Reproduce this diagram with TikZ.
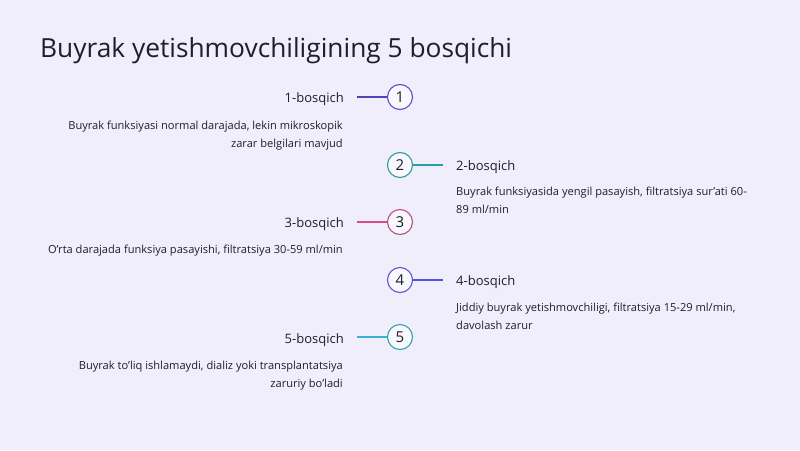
\documentclass[tikz,border=0pt]{standalone}
\usepackage{fontspec}
\setmainfont{Open Sans}
\begin{document}
\begin{tikzpicture}[x=1pt,y=-1pt,
  txt/.style={inner sep=0pt, text=ink},
  lbl/.style={txt, font=\fontsize{13}{16}\selectfont},
  dsc/.style={txt, font=\fontsize{11.1}{18}\selectfont},
  num/.style={circle, draw=#1, line width=1.1pt, fill=white!60!bg, minimum size=25pt, inner sep=0pt, text=ink, font=\fontsize{15}{18}\selectfont},
  conn/.style={draw=#1, line width=1.1pt}]
\definecolor{bg}{HTML}{EFEEFA}
\definecolor{ink}{HTML}{1E1E2C}
\definecolor{cA}{HTML}{4B45B8}
\definecolor{cB}{HTML}{2A9FAA}
\definecolor{cC}{HTML}{D94C86}
\definecolor{cD}{HTML}{5552DD}
\definecolor{cE}{HTML}{35B0D8}
\definecolor{oA}{HTML}{5B4FD0}
\definecolor{oB}{HTML}{2E9C98}
\definecolor{oC}{HTML}{B8508E}
\definecolor{oD}{HTML}{5A55D8}
\definecolor{oE}{HTML}{2EA6A8}
\fill[bg] (0,0) rectangle (800,450);
\useasboundingbox (0,0) rectangle (800,450);
\node[txt, anchor=base west, font=\fontsize{26.3}{30}\selectfont] (title) at (40,57.5) {Buyrak yetishmovchiligining 5 bosqichi};
% circles
\node[num=oA] (n1) at (400,97) {1};
\node[num=oB] (n2) at (400,165) {2};
\node[num=oC] (n3) at (400,222) {3};
\node[num=oD] (n4) at (400,280) {4};
\node[num=oE] (n5) at (400,337) {5};
% labels
\node[lbl, anchor=base east] (l1) at (344,102.5) {1-bosqich};
\node[lbl, anchor=base west] (l2) at (456,170) {2-bosqich};
\node[lbl, anchor=base east] (l3) at (344,227) {3-bosqich};
\node[lbl, anchor=base west] (l4) at (456,285) {4-bosqich};
\node[lbl, anchor=base east] (l5) at (344,343) {5-bosqich};
% connectors
\coordinate (e1) at (357,97);
\coordinate (e2) at (443,165);
\coordinate (e3) at (357,222);
\coordinate (e4) at (443,280);
\coordinate (e5) at (357,337);
\draw[conn=cA] (e1) -- (n1.west);
\draw[conn=cB] (n2.east) -- (e2);
\draw[conn=cC] (e3) -- (n3.west);
\draw[conn=cD] (n4.east) -- (e4);
\draw[conn=cE] (e5) -- (n5.west);
% descriptions (base anchor = last line's baseline)
\node[dsc, anchor=base east, align=right] (d1) at (343,147) {Buyrak funksiyasi normal darajada, lekin mikroskopik\\zarar belgilari mavjud};
\node[dsc, anchor=base west, align=left] (d2) at (456,213) {Buyrak funksiyasida yengil pasayish, filtratsiya sur'ati 60-\\89 ml/min};
\node[dsc, anchor=base east, align=right] (d3) at (343,253) {O'rta darajada funksiya pasayishi, filtratsiya 30-59 ml/min};
\node[dsc, anchor=base west, align=left] (d4) at (456,329) {Jiddiy buyrak yetishmovchiligi, filtratsiya 15-29 ml/min,\\davolash zarur};
\node[dsc, anchor=base east, align=right] (d5) at (343,387) {Buyrak to'liq ishlamaydi, dializ yoki transplantatsiya\\zaruriy bo'ladi};
\end{tikzpicture}
\end{document}
